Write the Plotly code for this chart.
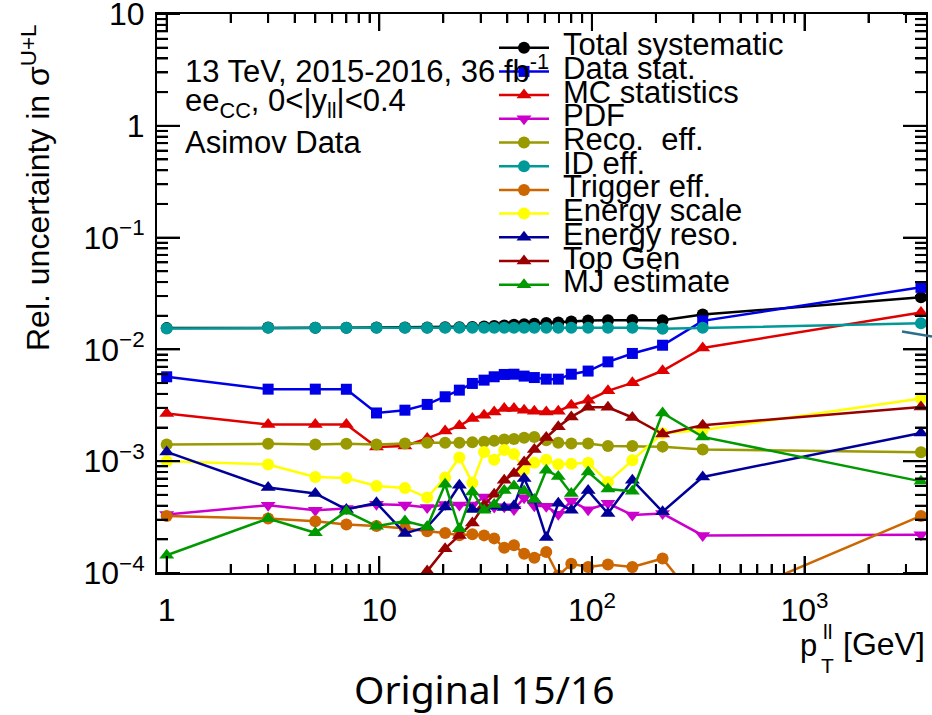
import math
import plotly.graph_objects as go

# ---------------- data ----------------
pt = [1, 3, 5, 7, 9.7, 13.2, 16.8, 20.4, 23.8, 27.4, 31.1, 34.7, 38.7, 43, 48,
      53.6, 61, 69.5, 80, 96, 119, 155, 215, 332, 3530]

total_syst = [0.0155, 0.0157, 0.0156, 0.0156, 0.0157, 0.0157, 0.0157, 0.0158, 0.0158,
              0.0159, 0.0160, 0.0162, 0.0164, 0.0166, 0.0168, 0.0170, 0.0172, 0.0174,
              0.0178, 0.0181, 0.0182, 0.0183, 0.0182, 0.0205, 0.0292]
data_stat = [0.00569, 0.00441, 0.00441, 0.0044, 0.0027, 0.00286, 0.00322, 0.00377,
             0.00432, 0.00496, 0.00531, 0.00569, 0.00597, 0.006, 0.00577, 0.0056,
             0.00542, 0.00542, 0.006, 0.0064, 0.00774, 0.0092, 0.0109, 0.018, 0.0359]
mc_stat = [0.00267, 0.00213, 0.00213, 0.00213, 0.00134, 0.00137, 0.0016, 0.00186,
           0.00207, 0.00241, 0.00258, 0.00276, 0.00296, 0.00296, 0.00286, 0.0028,
           0.00276, 0.0028, 0.00317, 0.00351, 0.00426, 0.00502, 0.00644, 0.0103, 0.0214]
pdf = [0.000333, 0.000404, 0.000364, 0.000377, 0.000412, 0.000405, 0.000385, 0.00041,
       0.000405, 0.000405, 0.000478, 0.00039, 0.000392, 0.00037, 0.00047, 0.0004,
       0.000395, 0.000335, 0.00044, 0.000368, 0.00042, 0.00033, 0.00034, 0.000217, 0.00022]
reco_eff = [0.00141, 0.00143, 0.00141, 0.00143, 0.00141, 0.00144, 0.00146, 0.00146,
            0.00146, 0.00148, 0.00149, 0.00152, 0.00156, 0.00158, 0.00162, 0.00165,
            0.00154, 0.00146, 0.00144, 0.00144, 0.00137, 0.00137, 0.00135, 0.00127, 0.0012]
id_eff = [0.0154, 0.0156, 0.0156, 0.0156, 0.0156, 0.0156, 0.0156, 0.0156, 0.0156,
          0.0156, 0.0156, 0.0156, 0.0156, 0.0156, 0.0156, 0.0156, 0.0156, 0.0156,
          0.0156, 0.0156, 0.0156, 0.0156, 0.0153, 0.0156, 0.0171]
trigger_eff = [0.000324, 0.000307, 0.00029, 0.000271, 0.000263, 0.00025, 0.000236,
               0.000228, 0.000218, 0.000222, 0.000217, 0.000204, 0.000168, 0.000177,
               0.000149, 0.000137, 0.000154, 0.000095, 0.000121, 0.000113, 0.000119,
               0.000113, 0.000135, 0.000048, 0.000324]
energy_scale = [0.001, 0.000934, 0.000723, 0.000708, 0.000601, 0.000577, 0.000473,
                0.000713, 0.00108, 0.00064, 0.00121, 0.00103, 0.00126, 0.00116, 0.00083,
                0.00097, 0.00103, 0.00094, 0.00095, 0.00097, 0.00065, 0.00102, 0.00178,
                0.0019, 0.00364]
energy_reso = [0.00121, 0.000581, 0.000514, 0.00037, 0.000424, 0.000226, 0.000258,
               0.000389, 0.00061, 0.00037, 0.000375, 0.000396, 0.000385, 0.0004, 0.0007,
               0.00045, 0.000208, 0.00042, 0.000364, 0.000546, 0.000341, 0.000676,
               0.000353, 0.000723, 0.00179]
top_gen = [None, None, None, None, None, None, 0.000104, 0.000165, 0.000217, 0.00028,
           0.000404, 0.000506, 0.000676, 0.000776, 0.000986, 0.00127, 0.00163, 0.00203,
           0.00249, 0.00303, 0.00303, 0.00246, 0.00175, 0.0021, 0.00306]
mj_estimate = [0.000144, 0.000307, 0.000229, 0.000356, 0.000262, 0.000292, 0.000259,
               0.000622, 0.000249, 0.000531, 0.000364, 0.00041, 0.000546, 0.0006, 0.00054,
               0.000455, 0.00083, 0.00073, 0.000514, 0.0008, 0.000563, 0.000538, 0.0027,
               0.00165, 0.00066]

series_names = ["Total systematic", "Data stat.", "MC statistics", "PDF", "Reco.  eff.",
                "ID eff.", "Trigger eff.", "Energy scale", "Energy reso.", "Top Gen",
                "MJ estimate"]
series_values = [total_syst, data_stat, mc_stat, pdf, reco_eff, id_eff, trigger_eff,
                 energy_scale, energy_reso, top_gen, mj_estimate]
series_colors = ["#000000", "#0000e6", "#e00000", "#cc00cc", "#999900", "#009999",
                 "#cc6600", "#ffff00", "#000099", "#990000", "#009900"]
series_symbols = ["circle", "square", "triangle-up", "triangle-down", "circle", "circle",
                  "circle", "circle", "triangle-up", "triangle-up", "triangle-up"]
symbol_sizes = {"circle": 12, "square": 11, "triangle-up": 13, "triangle-down": 13}

x_tickvals = [1, 10, 100, 1000]
x_ticktext = ["1", "10", "10<sup>2</sup>", "10<sup>3</sup>"]
y_tickvals = [10, 1, 0.1, 0.01, 0.001, 0.0001]
y_ticktext = ["10", "1", "10<sup>−1</sup>", "10<sup>−2</sup>", "10<sup>−3</sup>", "10<sup>−4</sup>"]
minor_mult = [2, 3, 4, 5, 6, 7, 8, 9]
x_decades = [0.1, 1, 10, 100, 1000]
y_decades = [1e-4, 1e-3, 1e-2, 1e-1, 1]

# ---------------- layout geometry ----------------
WIDTH, HEIGHT = 932, 715
L, R, T, B = 157, 6, 14, 142
PW = WIDTH - L - R
PH = HEIGHT - T - B
XR = [-0.0456, 3.5715]
YR = [-4.0, 1.0]
FONT = "Liberation Sans, Arial, Helvetica, sans-serif"


def px2x(px):
    return (px - L) / PW


def py2y(py):
    return (HEIGHT - B - py) / PH


def xval2paper(v):
    return (math.log10(v) - XR[0]) / (XR[1] - XR[0])


def yval2paper(v):
    return (math.log10(v) - YR[0]) / (YR[1] - YR[0])


fig = go.Figure()

for name, vals, col, sym in zip(series_names, series_values, series_colors, series_symbols):
    fig.add_trace(go.Scatter(
        x=pt, y=vals, mode="lines+markers", name=name,
        line=dict(color=col, width=2.5),
        marker=dict(color=col, symbol=sym, size=symbol_sizes[sym], line=dict(width=0)),
        showlegend=False,
    ))

# ---------------- ROOT-style tick marks on all four sides ----------------
X_MAJ, X_MIN, Y_MAJ, Y_MIN = 17, 9, 23, 11
tick_shapes = []
TICK_LINE = dict(color="#000000", width=2)

x_minor = [d * m for d in x_decades for m in minor_mult
           if 0 <= xval2paper(d * m) <= 1]
y_minor = [d * m for d in y_decades for m in minor_mult
           if 0 <= yval2paper(d * m) <= 1]


def add_xtick(v, ln):
    xp = xval2paper(v)
    tick_shapes.append(dict(type="line", xref="paper", yref="paper", layer="above",
                            x0=xp, x1=xp, y0=0.0, y1=ln / PH, line=dict(TICK_LINE)))
    tick_shapes.append(dict(type="line", xref="paper", yref="paper", layer="above",
                            x0=xp, x1=xp, y0=1.0, y1=1 - ln / PH, line=dict(TICK_LINE)))


def add_ytick(v, ln):
    yp = yval2paper(v)
    tick_shapes.append(dict(type="line", xref="paper", yref="paper", layer="above",
                            x0=0.0, x1=ln / PW, y0=yp, y1=yp, line=dict(TICK_LINE)))
    tick_shapes.append(dict(type="line", xref="paper", yref="paper", layer="above",
                            x0=1.0, x1=1 - ln / PW, y0=yp, y1=yp, line=dict(TICK_LINE)))


for v in x_tickvals:
    add_xtick(v, X_MAJ)
for v in x_minor:
    add_xtick(v, X_MIN)
for v in y_tickvals:
    add_ytick(v, Y_MAJ)
for v in y_minor:
    add_ytick(v, Y_MIN)

# ---------------- hand-drawn ROOT-style legend ----------------
LEG_X0, LEG_X1, LEG_TXT = 499, 549, 561
LEG_TOP, LEG_STEP = 47.7, 23.7
annotations = []
for i, (name, col, sym) in enumerate(zip(series_names, series_colors, series_symbols)):
    yy = py2y(LEG_TOP + i * LEG_STEP)
    fig.add_trace(go.Scatter(
        x=[px2x(LEG_X0), px2x(LEG_X1)], y=[yy, yy],
        xaxis="x2", yaxis="y2", mode="lines",
        line=dict(color=col, width=2.5), showlegend=False, hoverinfo="skip",
    ))
    fig.add_trace(go.Scatter(
        x=[px2x((LEG_X0 + LEG_X1) / 2)], y=[yy],
        xaxis="x2", yaxis="y2", mode="markers",
        marker=dict(color=col, symbol=sym, size=symbol_sizes[sym], line=dict(width=0)),
        showlegend=False, hoverinfo="skip",
    ))
    annotations.append(dict(
        x=px2x(LEG_TXT), y=py2y(LEG_TOP + i * LEG_STEP - 3), xref="paper", yref="paper",
        text=name, showarrow=False, xanchor="left", yanchor="middle",
        font=dict(family=FONT, size=31, color="black"),
    ))

# ---------------- text labels ----------------
text_lines = [("13 TeV, 2015-2016, 36 fb<sup>-1</sup>", 69),
              ("ee<sub>CC</sub>, 0<|y<sub>ll</sub>|<0.4", 103),
              ("Asimov Data", 143)]
for txt, py in text_lines:
    annotations.append(dict(
        x=px2x(183), y=py2y(py), xref="paper", yref="paper", text=txt, showarrow=False,
        xanchor="left", yanchor="middle", font=dict(family=FONT, size=31, color="black")))

# y-axis title
annotations.append(dict(
    x=px2x(36), y=py2y(188), xref="paper", yref="paper",
    text="Rel. uncertainty in σ<sup>U+L</sup>", textangle=-90, showarrow=False,
    xanchor="center", yanchor="middle", font=dict(family=FONT, size=32, color="black")))

# x-axis title pieces (stacked sub/superscript like ROOT)
annotations += [
    dict(x=px2x(819), y=py2y(645), xref="paper", yref="paper", text="p", showarrow=False,
         xanchor="right", yanchor="middle", font=dict(family=FONT, size=31, color="black")),
    dict(x=px2x(821), y=py2y(631), xref="paper", yref="paper", text="ll", showarrow=False,
         xanchor="left", yanchor="middle", font=dict(family=FONT, size=21, color="black")),
    dict(x=px2x(819), y=py2y(665), xref="paper", yref="paper", text="T", showarrow=False,
         xanchor="left", yanchor="middle", font=dict(family=FONT, size=21, color="black")),
    dict(x=px2x(841), y=py2y(644), xref="paper", yref="paper", text="[GeV]", showarrow=False,
         xanchor="left", yanchor="middle", font=dict(family=FONT, size=32, color="black")),
]

# caption
annotations.append(dict(
    x=px2x(484), y=py2y(688), xref="paper", yref="paper", text="Original 15/16",
    showarrow=False, xanchor="center", yanchor="middle",
    font=dict(family="Noto Sans, sans-serif", size=39, color="black")))

tick_shapes.append(dict(type="line", xref="paper", yref="paper",
                        x0=px2x(902), y0=py2y(331.5), x1=px2x(932), y1=py2y(336.5),
                        line=dict(color="#2a6e8c", width=2.5)))

axis_common = dict(
    type="log", showgrid=False, zeroline=False, showline=True, linecolor="black",
    linewidth=2, mirror="allticks", ticks="inside", tickcolor="black", tickwidth=2,
    ticklabeloverflow="allow", automargin=False,
    tickfont=dict(family=FONT, size=32, color="black"), tickmode="array",
)

fig.update_layout(
    width=WIDTH, height=HEIGHT,
    margin=dict(l=L, r=R, t=T, b=B),
    paper_bgcolor="white", plot_bgcolor="white",
    xaxis=dict(**axis_common, range=XR, tickvals=x_tickvals, ticktext=x_ticktext,
               ticklen=X_MAJ, ticklabelstandoff=8,
               minor=dict(ticks="inside", ticklen=X_MIN, tickwidth=2, tickcolor="black",
                          tickmode="array", tickvals=x_minor, showgrid=False)),
    yaxis=dict(**axis_common, range=YR, tickvals=y_tickvals, ticktext=y_ticktext,
               ticklen=Y_MAJ, ticklabelstandoff=4,
               minor=dict(ticks="inside", ticklen=Y_MIN, tickwidth=2, tickcolor="black",
                          tickmode="array", tickvals=y_minor, showgrid=False)),
    xaxis2=dict(overlaying="x", range=[0, 1], visible=False, fixedrange=True),
    yaxis2=dict(overlaying="y", range=[0, 1], visible=False, fixedrange=True),
    annotations=annotations,
    shapes=tick_shapes,
    showlegend=False,
)

fig.write_html("out.html")
